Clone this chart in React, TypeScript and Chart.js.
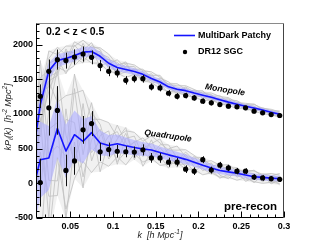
import React, { useEffect, useRef } from 'react';
import { Chart, registerables } from 'chart.js';
Chart.register(...registerables);

const FONT = "'Liberation Sans', Arial, Helvetica, sans-serif";

// k bins (model defined from 0.005, data from 0.015)
const K_MODEL = [0.005, 0.015, 0.025, 0.035, 0.045, 0.055, 0.065, 0.075, 0.085, 0.095, 0.105, 0.115, 0.125, 0.135, 0.145, 0.155, 0.165, 0.175, 0.185, 0.195, 0.205, 0.215, 0.225, 0.235, 0.245, 0.255, 0.265, 0.275, 0.285, 0.295];
const K_DATA = [0.015, 0.025, 0.035, 0.045, 0.055, 0.065, 0.075, 0.085, 0.095, 0.105, 0.115, 0.125, 0.135, 0.145, 0.155, 0.165, 0.175, 0.185, 0.195, 0.205, 0.215, 0.225, 0.235, 0.245, 0.255, 0.265, 0.275, 0.285, 0.295];
const X_TICKS = [0.05, 0.1, 0.15, 0.2, 0.25, 0.3];
const Y_TICKS = [-500, 0, 500, 1000, 1500, 2000];

// MultiDark Patchy mean (blue line) and band half widths
const MONO_MODEL = [300, 1130, 1620, 1770, 1800, 1840, 1890, 1900, 1830, 1730, 1670, 1640, 1610, 1570, 1510, 1460, 1390, 1355, 1335, 1300, 1270, 1240, 1205, 1170, 1140, 1110, 1085, 1055, 1025, 995];
const MONO_BAND = [250, 150, 120, 95, 85, 80, 75, 70, 65, 60, 55, 50, 48, 46, 44, 42, 40, 38, 36, 35, 34, 33, 32, 31, 30, 29, 28, 27, 26, 25];
const QUAD_MODEL = [-170, 340, 365, 790, 465, 700, 605, 730, 580, 545, 570, 540, 515, 495, 480, 445, 410, 380, 345, 305, 260, 220, 185, 165, 145, 120, 95, 85, 75, 65];
const QUAD_BAND = [600, 550, 460, 420, 380, 350, 320, 240, 180, 150, 135, 120, 110, 100, 92, 85, 80, 75, 70, 65, 60, 56, 53, 50, 48, 46, 45, 43, 42, 40];

// DR12 SGC measurements
const MONO_DATA = [1254, 1614, 1782, 1768, 1820, 1863, 1815, 1696, 1614, 1590, 1484, 1507, 1507, 1389, 1375, 1298, 1254, 1264, 1231, 1183, 1159, 1135, 1111, 1102, 1087, 1039, 1015, 991, 977];
const MONO_ERR = [170, 170, 145, 115, 110, 110, 100, 80, 70, 65, 60, 55, 55, 50, 50, 45, 45, 40, 40, 38, 36, 35, 33, 32, 30, 30, 28, 27, 26];
const QUAD_DATA = [10, 1088, 1050, 185, 323, 770, 860, 453, 486, 462, 455, 450, 482, 366, 366, 304, 304, 203, 175, 340, 190, 261, 222, 175, 175, 90, 77, 67, 57];
const QUAD_ERR = [345, 400, 350, 227, 200, 200, 180, 130, 100, 90, 80, 80, 80, 70, 70, 65, 60, 55, 55, 50, 50, 48, 45, 45, 42, 40, 40, 38, 36];

// individual mock deviations (in units of band half width)
const MOCK_A = [1.2, -0.8, 1.5, 2.0, 0.6, -1.1, 0.4, 1.8, -0.5, 0.9, 1.3, -0.2, 0.7, 1.6, 0.3, -0.9, 1.1, 2.1, 0.5, -0.4, 1.4, 0.8, -0.6, 1.0, 1.7, 0.2, -0.3, 1.2, 0.9, 0.4];
const MOCK_B = [-1.5, 1.9, -0.7, -1.8, 1.2, 0.5, -1.6, -0.4, 1.1, -1.3, -0.6, 1.5, -1.2, -0.3, -1.7, 0.8, -0.5, -1.4, -1.0, 1.3, -0.8, -1.6, 0.6, -1.1, -0.4, -1.5, -0.9, -0.2, -1.3, -0.7];
const MOCK_C = [2.2, 0.6, 2.4, 0.9, 2.1, 1.7, 2.3, 0.8, 1.9, 2.2, 0.7, 1.8, 2.0, 1.1, 2.2, 1.6, 0.9, 1.3, 2.0, 1.5, 0.8, 1.9, 1.4, 2.1, 0.6, 1.5, 1.8, 1.0, 1.6, 1.3];
const MOCK_D = [-2.3, -1.6, -2.5, -1.0, -2.2, -1.8, -0.9, -2.4, -1.5, -2.0, -1.4, -2.3, -0.8, -1.9, -1.3, -2.2, -1.7, -1.1, -2.0, -1.6, -2.3, -1.2, -1.8, -1.5, -2.1, -0.9, -1.6, -2.0, -1.4, -1.7];
const MOCK_E = [0.3, 2.6, 0.1, -0.6, -0.2, 2.5, 1.0, -1.2, 0.2, -0.1, 2.0, 0.4, -0.9, 0.1, 1.0, 2.3, 0.0, -0.7, 1.5, 0.3, -1.3, 0.4, 1.8, 0.1, -0.8, 0.9, 2.1, 0.3, -0.5, 0.6];
const MOCK_F = [-0.6, -2.4, 0.9, 0.2, -2.6, -0.3, -2.1, 0.5, -2.3, 0.4, -1.9, -0.7, 0.8, -2.5, -0.2, -0.6, -2.4, 0.3, -0.4, -2.2, 0.2, -0.5, -2.1, -0.7, 0.5, -2.0, -0.3, -1.1, 0.2, -2.2];
const MOCK_G = [1.7, 1.1, -1.9, 1.4, -1.0, 1.9, -0.6, 1.2, 1.5, -0.8, 0.5, 2.2, -1.6, 0.9, -0.9, 1.3, 1.8, -0.2, -1.5, 0.9, 1.9, -1.0, 0.2, 1.6, -1.2, 0.7, 1.0, -1.5, 0.8, 1.9];
const MOCK_H = [-1.0, 0.2, -1.2, -2.3, 1.6, -1.4, 1.7, -1.7, 0.6, 1.4, -2.2, 0.9, 1.5, -1.1, 1.6, -1.5, 0.4, -2.0, 1.1, -1.1, -0.2, 1.3, -1.3, -2.0, 1.1, -0.6, -1.9, 0.7, -2.0, -0.3];
const MOCKS = [MOCK_A, MOCK_B, MOCK_C, MOCK_D, MOCK_E, MOCK_F, MOCK_G, MOCK_H];
const MOCK_SCALE = 1.0;

const X_MIN = 0.01, X_MAX = 0.3;
const Y_MIN = -500, Y_MAX = 2310;

const pts = (xs: number[], ys: number[]) => xs.map((x, i) => ({ x, y: ys[i] }));

function buildMultipole(model: number[], band: number[], data: number[], err: number[], start: number) {
  const ds: any[] = [];
  const mocks = MOCKS.map(d => model.map((m, i) => m + d[i] * band[i] * MOCK_SCALE));
  const envLo = model.map((_, i) => Math.min(...mocks.map(m => m[i])));
  const envHi = model.map((_, i) => Math.max(...mocks.map(m => m[i])));
  const base = { type: 'line', pointRadius: 0, tension: 0, borderJoinStyle: 'round' };
  ds.push({ ...base, data: pts(K_MODEL, envLo), borderWidth: 0, borderColor: 'rgba(0,0,0,0)', fill: false, order: 30 });
  ds.push({ ...base, data: pts(K_MODEL, envHi), borderWidth: 0, borderColor: 'rgba(0,0,0,0)', fill: { target: start }, backgroundColor: 'rgba(215,215,215,0.35)', order: 30 });
  mocks.forEach(m => ds.push({ ...base, data: pts(K_MODEL, m), borderWidth: 0.8, borderColor: 'rgb(192,192,192)', fill: false, order: 20 }));
  const bLo = model.map((m, i) => m - band[i]);
  const bHi = model.map((m, i) => m + band[i]);
  const loIdx = start + 2 + mocks.length;
  ds.push({ ...base, data: pts(K_MODEL, bLo), borderWidth: 0, borderColor: 'rgba(0,0,0,0)', fill: false, order: 10 });
  ds.push({ ...base, data: pts(K_MODEL, bHi), borderWidth: 0, borderColor: 'rgba(0,0,0,0)', fill: { target: loIdx }, backgroundColor: 'rgba(170,170,255,0.6)', order: 10 });
  ds.push({ ...base, data: pts(K_MODEL, model), borderWidth: 1.6, borderColor: '#1414ff', fill: false, order: 5 });
  ds.push({ ...base, data: pts(K_DATA, data), showLine: false, pointRadius: 2.6, pointBackgroundColor: '#000', pointBorderColor: '#000', pointBorderWidth: 0, errs: err, order: 1 });
  return ds;
}

type Part = [string, number];
function drawRich(ctx: CanvasRenderingContext2D, parts: Part[], cx: number, cy: number, size: number, style: string) {
  const small = size * 0.72;
  let w = 0;
  for (const [t, k] of parts) { ctx.font = `${style} ${k ? small : size}px ${FONT}`; w += ctx.measureText(t).width; }
  let x = cx - w / 2;
  ctx.textAlign = 'left';
  ctx.textBaseline = 'alphabetic';
  for (const [t, k] of parts) {
    ctx.font = `${style} ${k ? small : size}px ${FONT}`;
    const dy = k === 1 ? -size * 0.42 : k === -1 ? size * 0.25 : 0;
    ctx.fillText(t, x, cy + dy);
    x += ctx.measureText(t).width;
  }
}

const errorBarPlugin = {
  id: 'errbars',
  beforeDatasetDraw(chart: any, args: any) {
    const ds = chart.data.datasets[args.index];
    if (!ds.errs) return;
    const { ctx, chartArea: ca } = chart;
    const xs = chart.scales.x, ys = chart.scales.y;
    ctx.save();
    ctx.beginPath();
    ctx.rect(ca.left, ca.top, ca.right - ca.left, ca.bottom - ca.top);
    ctx.clip();
    ctx.strokeStyle = '#111';
    ctx.lineWidth = 1;
    ds.data.forEach((p: any, i: number) => {
      const x = Math.round(xs.getPixelForValue(p.x)) + 0.5;
      ctx.beginPath();
      ctx.moveTo(x, ys.getPixelForValue(p.y - ds.errs[i]));
      ctx.lineTo(x, ys.getPixelForValue(p.y + ds.errs[i]));
      ctx.stroke();
    });
    ctx.restore();
  },
};

const framePlugin = {
  id: 'frame',
  afterDatasetsDraw(chart: any) {
    const { ctx, chartArea: ca } = chart;
    const xs = chart.scales.x, ys = chart.scales.y;
    ctx.save();
    const L = Math.round(ca.left) + 0.5, R = Math.round(ca.right) - 0.5;
    const T = Math.round(ca.top) + 0.5, B = Math.round(ca.bottom) - 0.5;
    ctx.lineWidth = 1;
    ctx.strokeStyle = '#8a8a8a';
    ctx.beginPath(); ctx.moveTo(L, T); ctx.lineTo(R, T); ctx.stroke();
    ctx.strokeStyle = '#444';
    ctx.beginPath(); ctx.moveTo(R, T); ctx.lineTo(R, B); ctx.stroke();
    ctx.strokeStyle = '#000';
    ctx.beginPath(); ctx.moveTo(L, T); ctx.lineTo(L, B); ctx.lineTo(R, B); ctx.stroke();
    ctx.beginPath();
    for (let v = -500; v <= 2300; v += 100) {
      const y = Math.round(ys.getPixelForValue(v)) + 0.5;
      const len = v % 500 === 0 ? 6 : 3;
      ctx.moveTo(L, y); ctx.lineTo(L + len, y);
    }
    for (let i = 1; i <= 30; i++) {
      const x = Math.round(xs.getPixelForValue(i / 100)) + 0.5;
      const len = i % 5 === 0 ? 6 : 3;
      ctx.moveTo(x, B); ctx.lineTo(x, B - len);
    }
    ctx.stroke();
    ctx.restore();
  },
  afterDraw(chart: any) {
    const { ctx } = chart;
    ctx.save();
    ctx.fillStyle = '#000';
    ctx.font = `bold 10.5px ${FONT}`;
    ctx.textBaseline = 'middle';
    ctx.textAlign = 'left';
    ctx.fillText('0.2 < z < 0.5', 46, 32.5);
    ctx.strokeStyle = '#1414ff';
    ctx.lineWidth = 1.6;
    ctx.beginPath(); ctx.moveTo(174, 35.5); ctx.lineTo(195, 35.5); ctx.stroke();
    ctx.font = `bold 9px ${FONT}`;
    ctx.fillText('MultiDark Patchy', 198, 35.5);
    ctx.beginPath(); ctx.arc(185, 52, 2.2, 0, Math.PI * 2); ctx.fill();
    ctx.fillText('DR12 SGC', 198, 52);
    ctx.font = `bold 11.5px ${FONT}`;
    ctx.fillText('pre-recon', 224, 207);
    ctx.font = `bold italic 8.5px ${FONT}`;
    ctx.textAlign = 'center';
    ctx.save(); ctx.translate(225, 90); ctx.rotate(0.16); ctx.fillText('Monopole', 0, 0); ctx.restore();
    ctx.save(); ctx.translate(168, 136); ctx.rotate(0.14); ctx.fillText('Quadrupole', 0, 0); ctx.restore();
    ctx.fillStyle = '#222';
    drawRich(ctx, [['k', 0], ['  [', 0], ['h', 0], [' Mpc', 0], ['-1', 1], [']', 0]], 160, 238, 9, 'italic');
    ctx.save();
    ctx.translate(11, 117);
    ctx.rotate(-Math.PI / 2);
    drawRich(ctx, [['kP', 0], ['\u2113', -1], ['(k)', 0], ['  [', 0], ['h', 0], ['-2', 1], [' Mpc', 0], ['2', 1], [']', 0]], 0, 0, 9, 'italic');
    ctx.restore();
    ctx.restore();
  },
};

export default function App() {
  const ref = useRef<HTMLCanvasElement>(null);
  useEffect(() => {
    if (!ref.current) return;
    const mono = buildMultipole(MONO_MODEL, MONO_BAND, MONO_DATA, MONO_ERR, 0);
    const quad = buildMultipole(QUAD_MODEL, QUAD_BAND, QUAD_DATA, QUAD_ERR, mono.length);
    const tickFont = { family: FONT, weight: 'bold', size: 9 };
    const chart = new Chart(ref.current, {
      type: 'line',
      data: { datasets: [...mono, ...quad] as any },
      options: {
        animation: false,
        responsive: false,
        devicePixelRatio: 1,
        events: [],
        layout: { padding: { top: 23, right: 32, left: 0, bottom: 0 } },
        plugins: { legend: { display: false }, tooltip: { enabled: false } },
        scales: {
          x: {
            type: 'linear', min: X_MIN, max: X_MAX,
            grid: { display: false, drawTicks: false, tickLength: 0 }, border: { display: false },
            ticks: {
              padding: 3, color: '#000', font: tickFont, maxRotation: 0, autoSkip: false,
              callback: (v: any) => String(Number(Number(v).toFixed(2))),
            },
            afterBuildTicks: (s: any) => { s.ticks = X_TICKS.map(v => ({ value: v })); },
            afterFit: (s: any) => { s.height = 25; },
          },
          y: {
            type: 'linear', min: Y_MIN, max: Y_MAX,
            grid: { display: false, drawTicks: false, tickLength: 0 }, border: { display: false },
            ticks: {
              padding: 3, color: '#000', font: tickFont, autoSkip: false,
              callback: (v: any) => String(Math.round(Number(v))),
            },
            afterBuildTicks: (s: any) => { s.ticks = Y_TICKS.map(v => ({ value: v })); },
            afterFit: (s: any) => { s.width = 36; },
          },
        },
      } as any,
      plugins: [errorBarPlugin, framePlugin],
    });
    return () => chart.destroy();
  }, []);
  return (
    <div style={{ position: 'absolute', left: 0, top: 0, width: 316, height: 243, background: '#fff' }}>
      <canvas ref={ref} width={316} height={243} style={{ display: 'block' }} />
    </div>
  );
}
